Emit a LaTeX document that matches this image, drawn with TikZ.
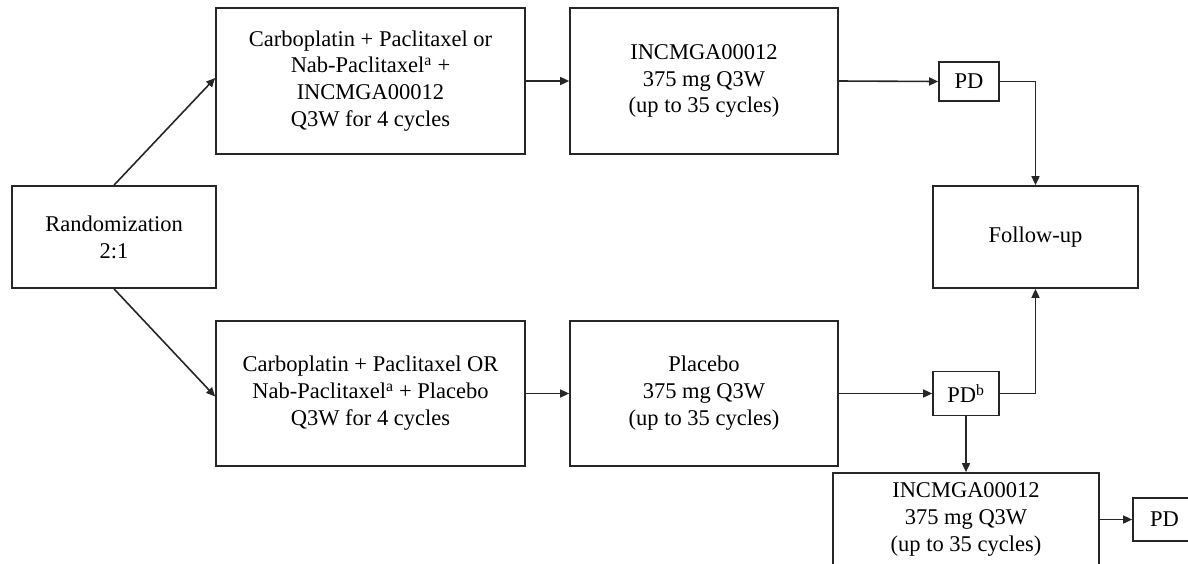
\documentclass[tikz,border=0pt]{standalone}
\usepackage{fontspec}
\setmainfont{Liberation Serif}
\usetikzlibrary{arrows.meta}
\begin{document}
\begin{tikzpicture}[x=1pt,y=-1pt,
  box/.style={draw=black!85, line width=1.7pt, inner sep=0pt, align=center,
    font=\fontsize{22.5}{26.9}\selectfont},
  conn/.style={draw=black!85, line width=1.6pt, -{Triangle[length=9pt,width=8pt]}}]
\useasboundingbox (0,0) rectangle (1188,563);
\clip (0,0) rectangle (1188,563);
\node[box, minimum width=204pt, minimum height=102pt] (rand) at (114,237) {Randomization\\2:1};
\node[box, minimum width=309pt, minimum height=146pt] (b1t) at (370.5,81) {Carboplatin + Paclitaxel or\\Nab-Paclitaxel\textsuperscript{a} +\\INCMGA00012\\Q3W for 4 cycles};
\node[box, minimum width=268pt, minimum height=146pt] (b2t) at (704,81) {INCMGA00012\\375 mg Q3W\\(up to 35 cycles)};
\node[box, minimum width=60pt, minimum height=39pt] (pd1) at (969,81.5) {PD};
\node[box, minimum width=205pt, minimum height=102pt] (fu) at (1035.5,237) {Follow-up};
\node[box, minimum width=309pt, minimum height=145pt] (b1b) at (370.5,393.5) {Carboplatin + Paclitaxel OR\\Nab-Paclitaxel\textsuperscript{a} + Placebo\\Q3W for 4 cycles};
\node[box, minimum width=268pt, minimum height=145pt] (b2b) at (704,393.5) {Placebo\\375 mg Q3W\\(up to 35 cycles)};
\node[box, minimum width=66pt, minimum height=44pt] (pdb) at (966,393.5) {PD\textsuperscript{b}};
\node[box, minimum width=266pt, minimum height=93pt] (inc) at (966,519.5) {INCMGA00012\\375 mg Q3W\\(up to 35 cycles)};
\node[box, minimum width=63pt, minimum height=43pt] (pd3) at (1164.5,519.5) {PD};
\draw[conn] (rand.north) -- ([yshift=3pt]b1t.west);
\draw[conn] (rand.south) -- ([yshift=-3pt]b1b.west);
\draw[conn] (b1t.east) -- (b2t.west);
\draw[conn] (b2t.east) -- (pd1.west);
\draw[conn] (pd1.east) -| (fu.north);
\draw[conn] (b1b.east) -- (b2b.west);
\draw[conn] (b2b.east) -- (pdb.west);
\draw[conn] (pdb.east) -| (fu.south);
\draw[conn] (pdb.south) -- (inc.north);
\draw[conn] (inc.east) -- (pd3.west);
\end{tikzpicture}
\end{document}
